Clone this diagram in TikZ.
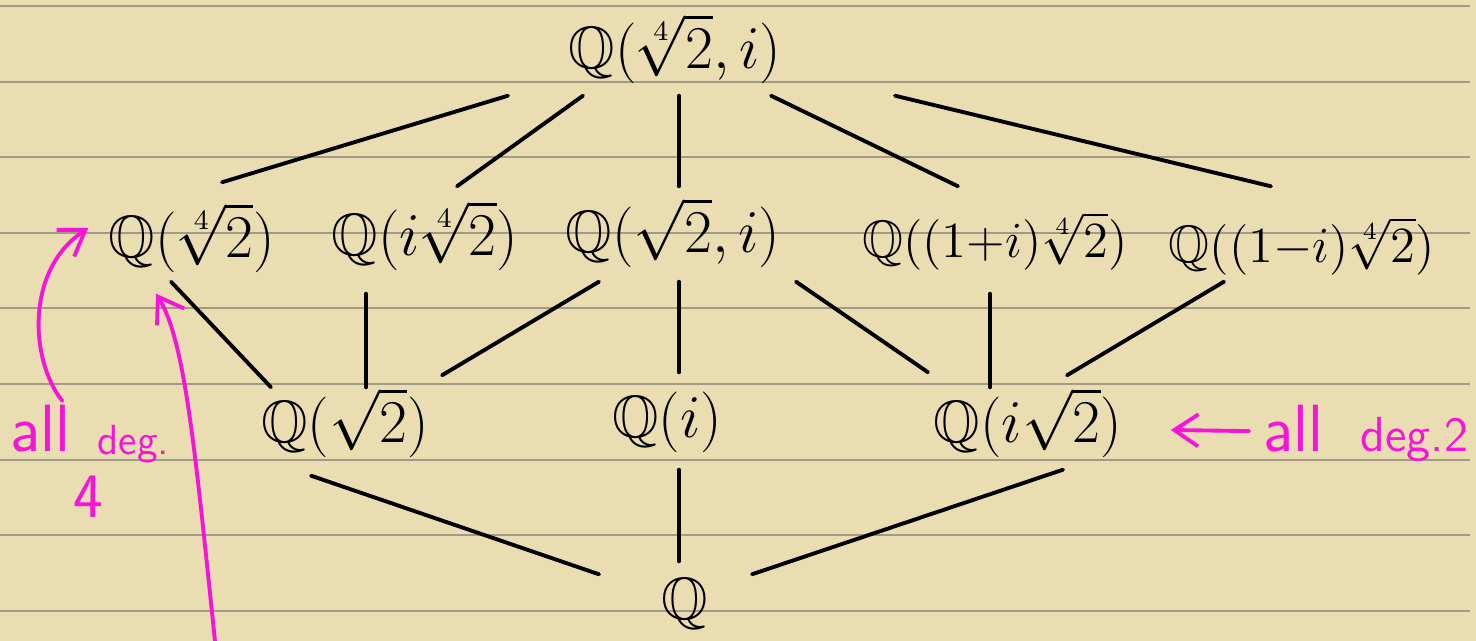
\documentclass[tikz,border=0pt]{standalone}
\usepackage{amssymb}
\usepackage{fontspec}
\usetikzlibrary{arrows.meta}
\definecolor{papier}{RGB}{234,221,178}
\definecolor{linie}{RGB}{160,154,135}
\definecolor{pink}{RGB}{245,20,215}
\begin{document}
\begin{tikzpicture}[x=0.1mm, y=-0.1mm,
  koerper/.style={font=\fontsize{17}{20}\selectfont, inner sep=0pt, text height=4.2mm, text depth=1.6mm},
  kante/.style={black, line width=1.1pt, line cap=round},
  notiz/.style={pink, inner sep=0pt, anchor=base west},
  pfeil/.style={pink, line width=1.1pt, line cap=round, -{Straight Barb[length=2.4mm, width=3.2mm]}}]
  % Papier mit Linien
  \fill[papier] (0,0) rectangle (1476,641);
  \useasboundingbox (0,0) rectangle (1476,641);
  \foreach \r in {0,...,8}{
    \draw[linie, line width=0.6pt] (0,6+75.6*\r) -- (1470,6+75.6*\r);
  }
  % Koerper (Ebenen von oben nach unten)
  \node[koerper] (top)  at (675,56)   {$\mathbb{Q}(\sqrt[4]{2},i)$};
  \node[koerper] (q4)   at (192,245)  {$\mathbb{Q}(\sqrt[4]{2})$};
  \node[koerper] (qi4)  at (425,243)  {$\mathbb{Q}(i\sqrt[4]{2})$};
  \node[koerper] (qs2i) at (673,240)  {$\mathbb{Q}(\sqrt{2},i)$};
  \node[koerper, font=\fontsize{15}{18}\selectfont] (qp) at (995,245)  {$\mathbb{Q}((1{+}i)\sqrt[4]{2})$};
  \node[koerper, font=\fontsize{15}{18}\selectfont] (qm) at (1302,250) {$\mathbb{Q}((1{-}i)\sqrt[4]{2})$};
  \node[koerper] (qs2)  at (345,430)  {$\mathbb{Q}(\sqrt{2})$};
  \node[koerper] (qi)   at (667,425)  {$\mathbb{Q}(i)$};
  \node[koerper] (qis2) at (1028,430) {$\mathbb{Q}(i\sqrt{2})$};
  \node[koerper] (q)    at (685,607)  {$\mathbb{Q}$};
  % Kanten: oben -> Grad 4
  \draw[kante] ([shift={(-167,10)}]top.south) -- ([shift={(30,-33)}]q4.north);
  \draw[kante] ([shift={(-92,10)}]top.south)  -- ([shift={(32,-27)}]qi4.north);
  \draw[kante] ([shift={(4,10)}]top.south)    -- ([shift={(6,-24)}]qs2i.north);
  \draw[kante] ([shift={(96,10)}]top.south)   -- ([shift={(-37,-29)}]qp.north);
  \draw[kante] ([shift={(220,10)}]top.south)  -- ([shift={(-31,-34)}]qm.north);
  % Kanten: Grad 4 -> Grad 2
  \draw[kante] ([shift={(-21,7)}]q4.south)    -- ([shift={(-74,-13)}]qs2.north);
  \draw[kante] ([shift={(-59,21)}]qi4.south)  -- ([shift={(21,-13)}]qs2.north);
  \draw[kante] ([shift={(-74,12)}]qs2i.south) -- ([shift={(97,-25)}]qs2.north);
  \draw[kante] ([shift={(6,12)}]qs2i.south)   -- ([shift={(12,-23)}]qi.north);
  \draw[kante] ([shift={(123,12)}]qs2i.south) -- ([shift={(-100,-28)}]qis2.north);
  \draw[kante] ([shift={(-5,19)}]qp.south)    -- ([shift={(-38,-13)}]qis2.north);
  \draw[kante] ([shift={(-78,2)}]qm.south)    -- ([shift={(39,-25)}]qis2.north);
  % Kanten: Grad 2 -> Q
  \draw[kante] ([shift={(-34,16)}]qs2.south)  -- ([shift={(-86,-3)}]q.north);
  \draw[kante] ([shift={(12,15)}]qi.south)    -- ([shift={(-6,-16)}]q.north);
  \draw[kante] ([shift={(35,10)}]qis2.south)  -- ([shift={(67,-3)}]q.north);
  % Notizen in Pink
  \node[notiz, font=\sffamily\fontsize{19}{20}\selectfont] (all4) at (10,452) {all};
  \node[notiz, font=\sffamily\fontsize{12}{14}\selectfont] (deg4) at (97,455) {deg.};
  \node[notiz, font=\sffamily\fontsize{18}{20}\selectfont] (four) at (73,518) {4};
  \node[notiz, font=\sffamily\fontsize{19}{22}\selectfont] (all2) at (1263,452) {all};
  \node[notiz, font=\sffamily\fontsize{14}{16}\selectfont] (deg2) at (1360,452) {deg.2};
  \coordinate (unten) at (215,641);
  \draw[pfeil] ([shift={(-9,-4)}]all4.north east) .. controls (30,360) and (25,270) .. ([shift={(-20,-17)}]q4.west);
  \draw[pfeil] (unten) .. controls (195,450) and (185,340) .. ([shift={(-36,19)}]q4.south);
  \draw[pfeil] ([shift={(-14,2)}]all2.west) -- ([shift={(48,0)}]qis2.east);
\end{tikzpicture}
\end{document}
